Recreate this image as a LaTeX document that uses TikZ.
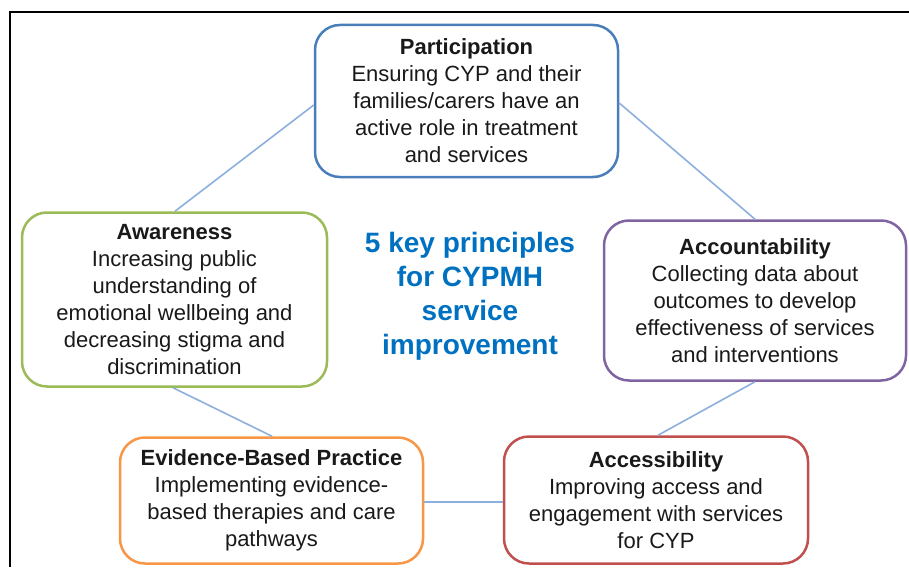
\documentclass[tikz,border=0pt]{standalone}
\usepackage{fontspec}
\setmainfont{Liberation Sans}
\definecolor{cBlue}{RGB}{74,126,187}
\definecolor{cGreen}{RGB}{155,187,89}
\definecolor{cPurple}{RGB}{128,100,162}
\definecolor{cOrange}{RGB}{247,150,70}
\definecolor{cRed}{RGB}{192,80,77}
\definecolor{cLink}{RGB}{140,175,222}
\definecolor{cTitle}{RGB}{0,112,192}
\tikzset{
  principle/.style={draw, line width=2.5pt, rounded corners=25pt, align=center,
    inner sep=0pt, font=\fontsize{22}{27}\selectfont, text=black!90},
  link/.style={draw=cLink, line width=1.6pt},
}
\begin{document}
\begin{tikzpicture}[x=1pt,y=-1pt]
\useasboundingbox (0,0) rectangle (909,567);
\draw[line width=2pt] (909,12) -- (10,12) -- (10,567);

\node[principle, draw=cBlue, minimum width=303pt, minimum height=152pt] (part) at (466.5,101)
  {\textbf{Participation}\\Ensuring CYP and their\\families/carers have an\\active role in treatment\\and services};
\node[principle, draw=cGreen, minimum width=305pt, minimum height=174pt] (aware) at (174.5,299.5)
  {\textbf{Awareness}\\Increasing public\\understanding of\\emotional wellbeing and\\decreasing stigma and\\discrimination};
\node[principle, draw=cPurple, minimum width=302pt, minimum height=160pt] (acct) at (755,300.5)
  {\textbf{Accountability}\\Collecting data about\\outcomes to develop\\effectiveness of services\\and interventions};
\node[principle, draw=cOrange, minimum width=303pt, minimum height=126pt] (ebp) at (271.5,500.5)
  {\textbf{Evidence-Based Practice}\\Implementing evidence-\\based therapies and care\\pathways};
\node[principle, draw=cRed, minimum width=304pt, minimum height=127pt] (access) at (656,500)
  {\textbf{Accessibility}\\Improving access and\\engagement with services\\for CYP};

\node[align=center, text=cTitle, font=\bfseries\fontsize{28}{34}\selectfont] (title) at (470,296)
  {5 key principles\\for CYPMH\\service\\improvement};

\coordinate (p1) at (part.west |- 0,105);
\coordinate (a1) at (175,0 |- aware.north);
\draw[link] (p1) -- (a1);
\coordinate (p2) at (part.east |- 0,103);
\coordinate (c1) at (755,0 |- acct.north);
\draw[link] (p2) -- (c1);
\coordinate (a2) at (173,0 |- aware.south);
\coordinate (e1) at (272,0 |- ebp.north);
\draw[link] (a2) -- (e1);
\coordinate (c2) at (755,0 |- acct.south);
\coordinate (s1) at (658,0 |- access.north);
\draw[link] (c2) -- (s1);
\draw[link] (ebp.east |- 0,502) -- (access.west |- 0,502);
\end{tikzpicture}
\end{document}
